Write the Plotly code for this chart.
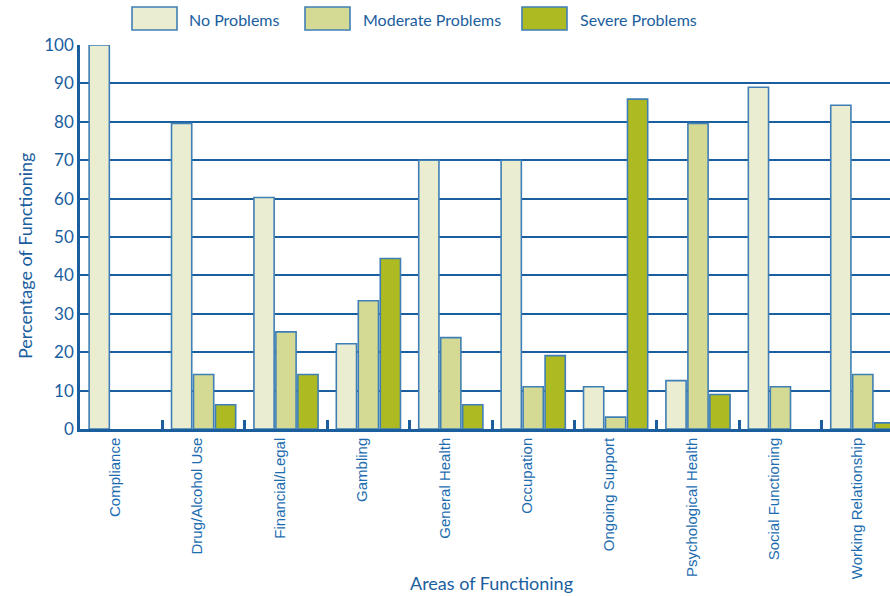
import plotly.graph_objects as go

areas = ["Compliance", "Drug/Alcohol Use", "Financial/Legal", "Gambling",
         "General Health", "Occupation", "Ongoing Support",
         "Psychological Health", "Social Functioning", "Working Relationship"]
no_problems = [100, 79.6, 60.3, 22.2, 70.0, 70.0, 11.0, 12.6, 89.0, 84.3]
moderate_problems = [0, 14.2, 25.3, 33.4, 23.8, 11.0, 3.1, 79.6, 11.0, 14.2]
severe_problems = [0, 6.3, 14.2, 44.4, 6.3, 19.1, 85.9, 9.0, 0, 1.6]

series_names = ["No Problems", "Moderate Problems", "Severe Problems"]
series_values = [no_problems, moderate_problems, severe_problems]
fills = ["#EAEDD0", "#D4DA93", "#AEBA21"]
edge = "#3F7FB5"
blue = "#1A5E9E"
gill = "Lato, 'Open Sans', sans-serif"

W, H = 890, 596
L, T, B = 80, 45, 167
PW, PH = W - L, H - T - B


def px_x(x):
    return (x - L) / PW


def px_y(y):
    return (H - B - y) / PH


fig = go.Figure()
for name, vals, col in zip(series_names, series_values, fills):
    fig.add_trace(go.Bar(
        x=areas, y=vals, name=name,
        marker=dict(color=col,
                    line=dict(color=edge, width=[0 if v == 0 else 1.6 for v in vals])),
        showlegend=False,
    ))

# legend drawn as outlined swatches with labels
legend_x = [132, 305, 522]
legend_text_x = [187, 361, 578]
for bx, tx, name, col in zip(legend_x, legend_text_x, series_names, fills):
    fig.add_shape(type="rect", xref="paper", yref="paper",
                  x0=px_x(bx), x1=px_x(bx + 45),
                  y0=px_y(30), y1=px_y(7),
                  fillcolor=col, line=dict(color=edge, width=1.6))
    fig.add_annotation(xref="paper", yref="paper",
                       x=px_x(tx), y=px_y(20),
                       text=name, showarrow=False, xanchor="left", yanchor="middle",
                       font=dict(family=gill, size=16, color=blue))

# axis titles
fig.add_annotation(xref="paper", yref="paper", x=px_x(491), y=px_y(583),
                   text="Areas of Functioning", showarrow=False,
                   xanchor="center", yanchor="middle",
                   font=dict(family=gill, size=18, color=blue))
fig.add_annotation(xref="paper", yref="paper", x=px_x(25), y=px_y(256),
                   text="Percentage of Functioning", showarrow=False, textangle=-90,
                   xanchor="center", yanchor="middle",
                   font=dict(family=gill, size=18, color=blue))

fig.update_layout(
    width=W, height=H,
    margin=dict(l=L, r=0, t=T, b=B),
    paper_bgcolor="white", plot_bgcolor="white",
    barmode="group", bargap=0.2, bargroupgap=0.08,
    xaxis=dict(
        range=[-0.5, 9.33],
        tickangle=-90, tickfont=dict(family="Liberation Sans, Arial", size=15, color="#1C6CB0"),
        ticklabelshift=-6,
        showline=True, linecolor=blue, linewidth=2.5,
        ticks="inside", tickson="boundaries", ticklen=9, tickwidth=2.5, tickcolor=blue,
        showgrid=False,
    ),
    yaxis=dict(
        range=[0, 100], dtick=10,
        tickfont=dict(family=gill, size=17, color=blue),
        showline=True, linecolor=blue, linewidth=2.5,
        showgrid=True, gridcolor=blue, gridwidth=1.8,
        zeroline=False, ticks="", ticklen=0,
    ),
)

fig.write_html("out.html")
